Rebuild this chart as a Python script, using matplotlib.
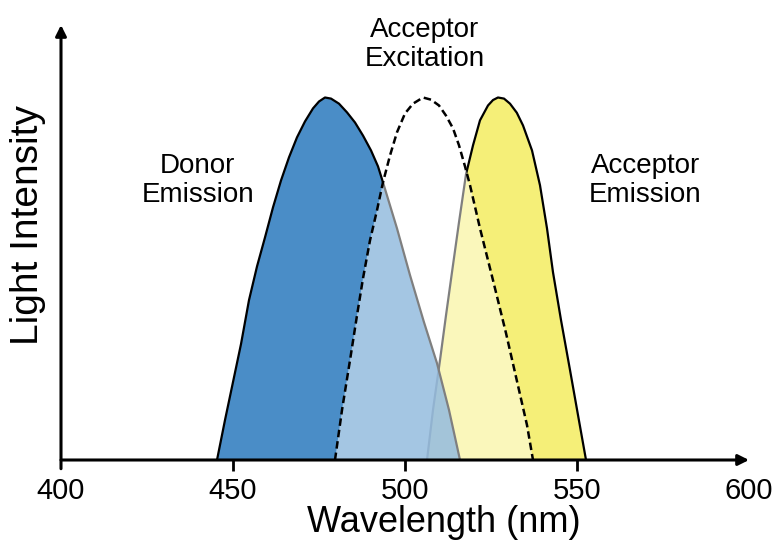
import matplotlib
matplotlib.use('Agg')
import matplotlib.pyplot as plt

plt.rcParams['font.family'] = ['Liberation Sans', 'DejaVu Sans']

# 供体发射光谱
donor_wl = [445.35, 447.67, 450.0, 452.33, 454.65, 456.98, 459.30, 461.63, 463.95,
            466.28, 468.60, 470.93, 473.26, 475.0, 476.74, 478.49, 480.81, 483.14,
            485.47, 487.79, 490.12, 492.15, 493.60, 497.67, 501.45, 505.52, 509.30,
            512.79, 515.99]
donor_int = [0.0, 0.110, 0.215, 0.320, 0.441, 0.534, 0.614, 0.697, 0.771,
             0.835, 0.890, 0.934, 0.970, 0.989, 1.0, 0.997, 0.983, 0.959,
             0.931, 0.895, 0.854, 0.810, 0.766, 0.639, 0.510, 0.380, 0.267,
             0.138, 0.0]

# 受体激发光谱 (虚线)
exc_wl = [479.65, 481.69, 484.01, 486.05, 487.79, 489.83, 491.86, 493.60, 495.64,
          497.67, 500.0, 502.33, 505.23, 507.56, 509.88, 511.92, 513.95, 515.70,
          517.44, 518.90, 521.80, 525.58, 529.36, 533.14, 535.47, 537.21]
exc_int = [0.0, 0.138, 0.275, 0.399, 0.501, 0.606, 0.689, 0.766, 0.840,
           0.904, 0.956, 0.983, 1.0, 0.994, 0.978, 0.950, 0.915, 0.868,
           0.810, 0.758, 0.639, 0.496, 0.350, 0.193, 0.096, 0.0]

# 受体发射光谱
acc_wl = [506.40, 508.14, 510.17, 511.92, 513.66, 515.70, 517.73, 519.77, 521.80,
          524.13, 525.58, 527.03, 528.78, 530.52, 532.50, 534.30, 536.92, 539.24,
          541.28, 543.02, 545.35, 547.97, 550.29, 552.62]
acc_int = [0.0, 0.138, 0.275, 0.399, 0.518, 0.656, 0.788, 0.868, 0.937,
           0.978, 0.993, 1.0, 0.997, 0.983, 0.958, 0.923, 0.854, 0.758,
           0.639, 0.518, 0.386, 0.248, 0.124, 0.0]

xticks = [400, 450, 500, 550, 600]

fig = plt.figure(figsize=(7.76, 5.5), dpi=100)
ax = fig.add_axes([61 / 776, 90 / 550, 688 / 776, 435 / 550])

# 填充
ax.fill(acc_wl, acc_int, color='#f5ef78', lw=0, zorder=1)
ax.plot(acc_wl, acc_int, color='black', lw=1.6, zorder=2)
ax.fill(donor_wl, donor_int, color='#2a79be', alpha=0.85, lw=0, zorder=3)
ax.plot(donor_wl, donor_int, color='black', lw=1.6, zorder=4)
# 激发光谱区域用半透明白色覆盖
ax.fill(exc_wl, exc_int, color='white', alpha=0.5, lw=0, zorder=5)
ax.plot(exc_wl, exc_int, color='black', lw=1.8, ls=(0, (3.0, 1.6)), zorder=6)

ax.set_xlim(400, 600)
ax.set_ylim(0, 1.2)
for s in ax.spines.values():
    s.set_visible(False)

# 坐标轴箭头
ax.annotate('', xy=(1.0, 0), xytext=(0, 0), xycoords='axes fraction',
            arrowprops=dict(arrowstyle='-|>', lw=2.2, color='black',
                            mutation_scale=16, shrinkA=0, shrinkB=0), zorder=10)
ax.annotate('', xy=(0, 1.0), xytext=(0, -0.02), xycoords='axes fraction',
            arrowprops=dict(arrowstyle='-|>', lw=2.2, color='black',
                            mutation_scale=16, shrinkA=0, shrinkB=0), zorder=10)

ax.set_xticks(xticks)
ax.set_yticks([])
ax.tick_params(axis='x', length=8, width=2, direction='out', pad=4, labelsize=21)
ax.xaxis.get_major_ticks()[-1].tick1line.set_visible(False)
ax.xaxis.get_major_ticks()[0].tick1line.set_visible(False)

fig.text(444 / 776, 1 - 522 / 550, 'Wavelength (nm)', fontsize=26,
         ha='center', va='center')
fig.text(28 / 776, 1 - 225 / 550, 'Light Intensity', fontsize=28,
         ha='center', va='center', rotation=90)

ax.text(439.8, 0.77, 'Donor\nEmission', fontsize=20, ha='center', va='center',
        linespacing=1.15)
ax.text(505.8, 1.146, 'Acceptor\nExcitation', fontsize=20, ha='center', va='center',
        linespacing=1.15)
ax.text(569.8, 0.77, 'Acceptor\nEmission', fontsize=20, ha='center', va='center',
        linespacing=1.15)

fig.savefig('out.png', dpi=100)
